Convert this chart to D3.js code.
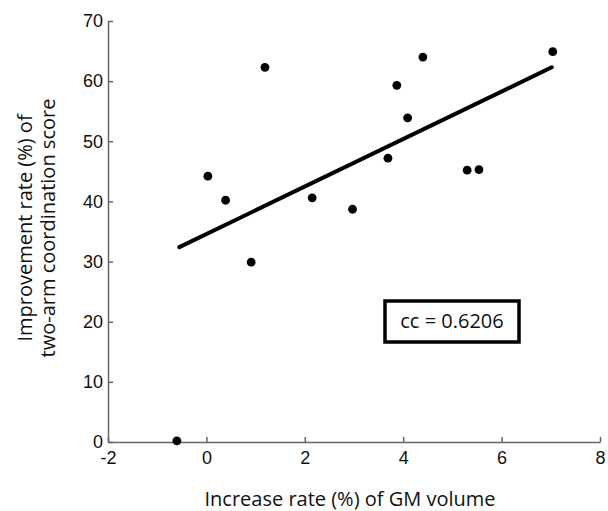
<!DOCTYPE html>
<html>
<head>
<meta charset="utf-8">
<script src="https://cdn.jsdelivr.net/npm/d3@7"></script>
<style>
  body { margin: 0; background: #fff; }
  .tick text { font-family: "Liberation Sans", Arial, sans-serif; font-size: 18px; fill: #111; }
  .axis path, .axis line { stroke: #666; stroke-width: 1.5; }
  .label { font-family: "Open Sans", "Noto Sans", sans-serif; fill: #111; }
</style>
</head>
<body>
<div id="chart"></div>
<script>
// values
const gmIncrease = [0.03, 0.39, 0.91, 1.19, 2.15, 2.97, 3.69, 3.87, 4.09, 4.40, 5.30, 5.54, 7.04, -0.60];
const improvement = [44.2, 40.2, 29.9, 62.3, 40.6, 38.7, 47.2, 59.3, 53.9, 64.0, 45.2, 45.3, 64.9, 0.2];
const fitX = [-0.55, 7.02];
const fitY = [32.4, 62.3];
const xTicks = [-2, 0, 2, 4, 6, 8];
const yTicks = [0, 10, 20, 30, 40, 50, 60, 70];
const ccText = "cc = 0.6206";

const width = 608, height = 511;
const margin = { top: 21, right: 8, bottom: 69, left: 108 };

const svg = d3.select("#chart").append("svg")
    .attr("width", width)
    .attr("height", height);

const x = d3.scaleLinear().domain([-2, 8]).range([margin.left, width - margin.right]);
const y = d3.scaleLinear().domain([0, 70]).range([height - margin.bottom, margin.top]);

const xAxis = d3.axisBottom(x).tickValues(xTicks).tickSizeInner(-5).tickSizeOuter(0)
    .tickPadding(9).tickFormat(d => String(d));
const yAxis = d3.axisLeft(y).tickValues(yTicks).tickSizeInner(-5).tickSizeOuter(0)
    .tickPadding(5).tickFormat(d => String(d));

svg.append("g")
    .attr("class", "axis")
    .attr("transform", "translate(0," + y(0) + ")")
    .call(xAxis);

svg.append("g")
    .attr("class", "axis")
    .attr("transform", "translate(" + x(-2) + ",0)")
    .call(yAxis);

svg.selectAll(".axis .domain").attr("stroke", "#666").attr("stroke-width", 1.5);

// regression line
const line = d3.line().x(d => x(d[0])).y(d => y(d[1]));
svg.append("path")
    .datum(d3.zip(fitX, fitY))
    .attr("d", line)
    .attr("fill", "none")
    .attr("stroke", "#000")
    .attr("stroke-width", 4)
    .attr("stroke-linecap", "round");

// data points
svg.selectAll(".dot")
    .data(d3.zip(gmIncrease, improvement))
    .enter().append("circle")
    .attr("class", "dot")
    .attr("cx", d => x(d[0]))
    .attr("cy", d => y(d[1]))
    .attr("r", 4.4)
    .attr("fill", "#000");

// correlation box
svg.append("rect")
    .attr("x", 385)
    .attr("y", 301)
    .attr("width", 134)
    .attr("height", 41)
    .attr("fill", "#fff")
    .attr("stroke", "#000")
    .attr("stroke-width", 3.5);

svg.append("text")
    .attr("class", "label")
    .attr("x", 452)
    .attr("y", 328)
    .attr("text-anchor", "middle")
    .attr("font-size", 20)
    .text(ccText);

// axis titles
svg.append("text")
    .attr("class", "label")
    .attr("x", 350)
    .attr("y", 506)
    .attr("text-anchor", "middle")
    .attr("font-size", 20)
    .text("Increase rate (%) of GM volume");

const yl = svg.append("text")
    .attr("class", "label")
    .attr("transform", "translate(32,228) rotate(-90)")
    .attr("text-anchor", "middle")
    .attr("font-size", 20);
yl.append("tspan").attr("x", 0).attr("dy", 0).text("Improvement rate (%) of");
yl.append("tspan").attr("x", 0).attr("dy", 23).text("two-arm coordination score");
</script>
</body>
</html>
